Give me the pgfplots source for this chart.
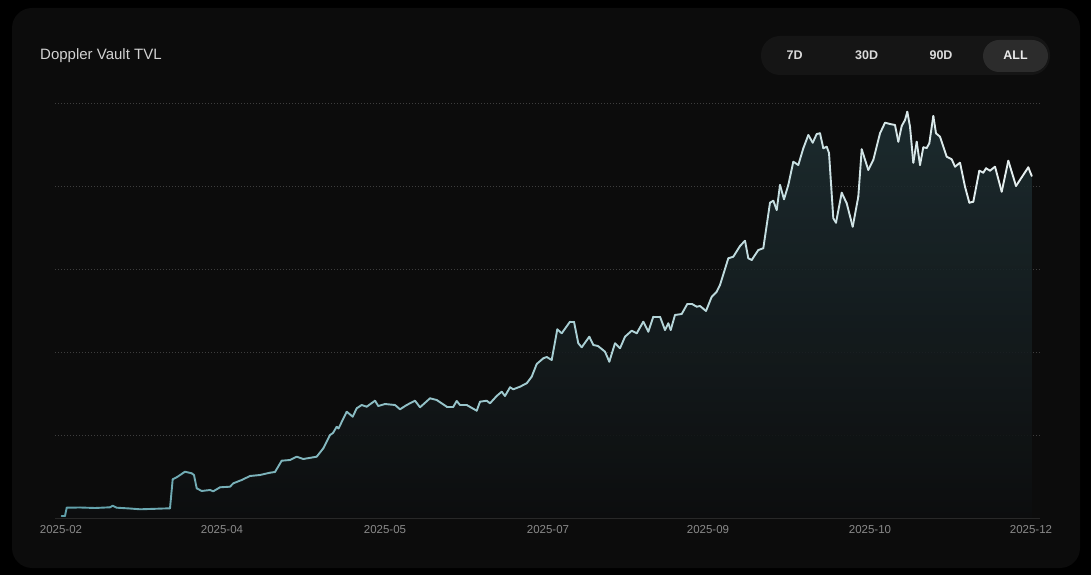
\documentclass[border=0pt]{standalone}
\usepackage{pgfplots}
\pgfplotsset{compat=1.18}
\usepackage{pgfplotstable}
\usepackage{fontspec}
\setmainfont{Liberation Sans}
\definecolor{outerbg}{RGB}{0,0,0}
\definecolor{panel}{RGB}{12,12,12}
\definecolor{pill}{RGB}{21,21,21}
\definecolor{pillon}{RGB}{44,44,44}
\definecolor{titlec}{RGB}{210,210,210}
\definecolor{btnc}{RGB}{218,218,218}
\definecolor{tickc}{RGB}{138,138,138}
\definecolor{gridc}{RGB}{62,62,62}
\definecolor{basec}{RGB}{40,40,40}
\definecolor{filltop}{RGB}{30,47,51}
\definecolor{fillbot}{RGB}{13,14,15}

\pgfplotstableread{
x y
61.7 2
65 2
66.7 10.3
80 10.5
95 10
110 10.7
112.7 12.3
116.7 10.3
130 9.5
140 8.7
155 9.2
170 9.7
172.7 38.7
176.7 40.7
185 46.3
191.7 44.7
194 43
196.7 29.7
201.7 27
210 28
213.3 26.7
220 30.7
230 31.3
233.3 34.7
241.7 38
250 42
260 43
270 45.3
275 46
281.7 57.3
290 58
296.7 61.3
303.3 59
316.7 61.3
323.3 69.7
330 83
333 85
336.7 91.3
338.5 89.5
346.7 106.3
352.7 101.3
356.7 109.7
361.7 113
366.7 111.3
375 117.3
378.3 112
385 114
395 113
400 108.7
406.7 113
415 117.3
420 110.7
430 119.7
436.7 118
446.7 111.3
453.3 111.3
456.7 117
460 113
466.7 113
476.7 107.3
480 116.3
486.7 117.3
490 114.7
496.7 122
501.7 126.3
505 122
510 130.7
513.3 128.7
520 131.3
526.7 134.7
531.7 141.3
536.7 154
543.3 159.7
546.7 161
551.7 158
557.3 188.7
561.7 184.7
570 196.3
574 196.3
578.3 174.7
581.7 170.7
589.3 181.3
593.3 173
598 172
605 166.3
609.3 156.3
615 174.7
620 169.7
625 181.3
631.7 187.3
636.7 184.7
643.3 196.3
648.3 186.3
653.3 201.3
660 201.3
665 188
668.3 194.7
670.7 188
675 203
681.7 204
687.3 214
692 214
696.7 211.3
700 212
706 207
711.7 221.3
716.7 226.3
720 233
728.3 259.7
733.3 261.3
740 272
745 277.3
748.3 259.7
751.7 258
758.3 268
763.3 269.7
770 315.3
773.3 317.3
776.7 308
780 333
784 318.7
788.3 333
793.3 356.3
798.3 353
803.3 369.7
808.3 383
812.7 375.3
816.7 384
820 384.7
823.3 369.7
826.7 371.3
829 365
833.3 299.7
836 295.3
841.7 325.3
846.7 314.7
852.7 291.3
858.3 321.3
861.7 368.7
868.3 348
873.3 358
880 384.7
885 395.3
890 394
895 393
898.3 376.3
901.7 392
905 398
907.3 406.3
910 391.3
913.3 355.3
916.7 376.3
920 353
923.3 370.7
926.7 370
929.3 374.7
933.3 402
936 384.7
940 381.3
946.7 361.3
951.7 358.7
955 351.3
960 355.3
965 331.3
969.3 315.3
973.3 316.3
979.3 347.3
983.3 345.3
986 349.7
990 347.3
995 351.3
1001.7 326.3
1008.3 357.3
1016 332
1021.7 340.7
1028.3 350.7
1031.7 342
}\tvl

\begin{document}
\begin{tikzpicture}[x=1pt,y=1pt]
\fill[outerbg] (0,0) rectangle (1091,575);
\fill[panel, rounded corners=20pt] (12,7) rectangle (1080,567);
% title
\node[anchor=west, inner sep=0pt, text=titlec, font=\fontsize{15}{17}\selectfont] at (40,519.5) {Doppler Vault TVL};
% range selector
\fill[pill, rounded corners=19pt] (761,500) rectangle (1050,539);
\fill[pillon, rounded corners=16pt] (983,503) rectangle (1048,535);
\begin{scope}[every node/.style={inner sep=0pt, font=\fontsize{12.5}{14}\selectfont\bfseries}]
\node[text=btnc] at (794.7,519.5) {7D};
\node[text=btnc] at (866.7,519.5) {30D};
\node[text=btnc] at (941,519.5) {90D};
\node[text=white!92!black] at (1015.5,519.5) {ALL};
\end{scope}
\begin{axis}[
  at={(55pt,57pt)}, anchor=south west,
  scale only axis, width=985pt, height=414pt,
  xmin=55, xmax=1040, ymin=0, ymax=414,
  axis x line=bottom, axis y line=left,
  x axis line style={draw=basec, line width=0.8pt, -},
  y axis line style={draw=none},
  xtick={61,222,385,548,708,870,1031},
  xticklabels={2025-02,2025-04,2025-05,2025-07,2025-09,2025-10,2025-12},
  major tick length=0pt,
  xticklabel style={text=tickc, font=\fontsize{11.5}{13}\selectfont, inner sep=0pt, anchor=north, yshift=-7pt},
  /pgf/number format/assume math mode=true,
  ytick={82.8,165.6,248.4,331.2,414},
  yticklabels={},
  ymajorgrids,
  grid style={draw=gridc, line width=1pt, dash pattern=on 1pt off 2pt},
  clip=false,
]
\addplot[draw=none, top color=filltop, bottom color=fillbot, fill opacity=0.88] table[x=x,y=y] {\tvl} \closedcycle;
\addplot[mesh, point meta=x, colormap={tvl}{rgb255=(95,160,170) rgb255=(165,205,210) rgb255=(232,240,240)}, line width=1.9pt, line join=round, line cap=round] table[x=x,y=y] {\tvl};
\end{axis}
\pgfresetboundingbox
\useasboundingbox (0,0) rectangle (1091,575);
\end{tikzpicture}
\end{document}
